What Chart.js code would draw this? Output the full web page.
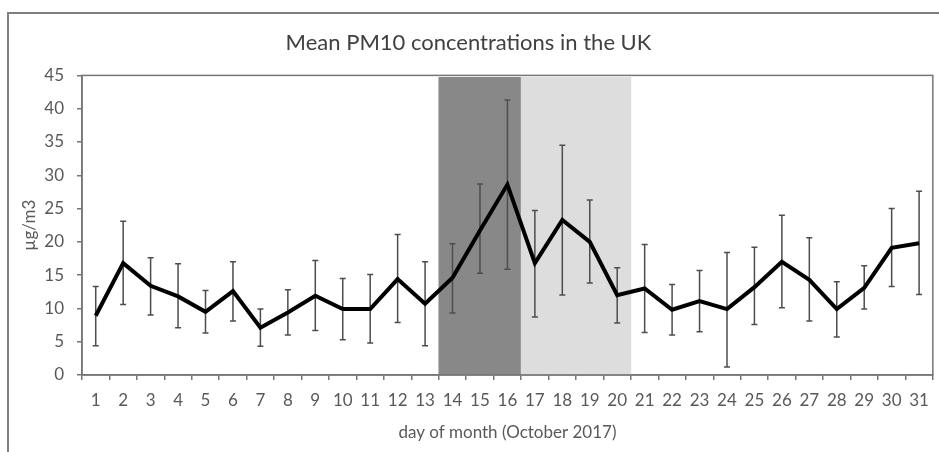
<!DOCTYPE html>
<html>
<head>
<meta charset="utf-8">
<title>Mean PM10 concentrations in the UK</title>
<script src="https://cdn.jsdelivr.net/npm/chart.js@4"></script>
<style>
  html, body { margin: 0; padding: 0; background: #fff; }
  #wrap { position: relative; width: 939px; height: 452px; overflow: hidden; }
  #frame { position: absolute; left: 7px; top: 12px; width: 960px; height: 470px;
           border-left: 2px solid #7f7f7f; border-top: 2px solid #7f7f7f; }
  #chart { position: absolute; left: 0; top: 0; }
</style>
</head>
<body>
<div id="wrap">
  <div id="frame"></div>
  <canvas id="chart" width="939" height="452"></canvas>
</div>
<script>
// day of month, October 2017
const days = ["1", "2", "3", "4", "5", "6", "7", "8", "9", "10", "11", "12", "13", "14", "15", "16",
              "17", "18", "19", "20", "21", "22", "23", "24", "25", "26", "27", "28", "29", "30", "31"];
// mean PM10 (µg/m3)
const means = [8.9, 16.8, 13.4, 11.8, 9.5, 12.6, 7.1, 9.4, 11.9, 9.9, 9.9, 14.4, 10.7, 14.6, 21.7, 28.6,
               16.8, 23.3, 20.0, 12.0, 13.0, 9.8, 11.1, 9.9, 13.2, 17.0, 14.3, 9.9, 13.1, 19.1, 19.8];
// error bar ends
const upper = [13.3, 23.1, 17.6, 16.7, 12.7, 17.0, 9.9, 12.8, 17.2, 14.5, 15.1, 21.1, 17.0, 19.7, 28.7, 41.3,
               24.7, 34.5, 26.3, 16.1, 19.6, 13.6, 15.7, 18.4, 19.2, 24.0, 20.6, 14.0, 16.4, 25.0, 27.6];
const lower = [4.4, 10.6, 9.0, 7.1, 6.3, 8.1, 4.3, 6.0, 6.7, 5.3, 4.8, 7.9, 4.4, 9.3, 15.3, 15.9,
               8.7, 12.0, 13.8, 7.8, 6.4, 6.0, 6.5, 1.2, 7.6, 10.1, 8.1, 5.7, 9.9, 13.3, 12.1];
// shaded periods
const darkDays = ["14", "15", "16"];
const lightDays = ["17", "18", "19", "20"];
const shadeTop = 44.7;

const grey = "#767676";
const textGrey = "#595959";
const fontFamily = "Lato, 'Open Sans', sans-serif";

const shadeValues = days.map(d => (darkDays.includes(d) || lightDays.includes(d)) ? shadeTop : null);
const shadeColors = days.map(d => darkDays.includes(d) ? "#888888" : "#dddddd");

// error bars, drawn after the shading and before the line
const errorBars = {
    id: "errorBars",
    afterDatasetDraw(chart, args) {
        if (args.meta.type !== "bar") return;
        const x = chart.scales.x, y = chart.scales.y, ctx = chart.ctx;
        ctx.save();
        ctx.strokeStyle = "#4d4d4d";
        ctx.lineWidth = 1.5;
        days.forEach((d, i) => {
            const px = x.getPixelForValue(i);
            const top = y.getPixelForValue(upper[i]);
            const bot = y.getPixelForValue(lower[i]);
            ctx.beginPath();
            ctx.moveTo(px, top); ctx.lineTo(px, bot);
            ctx.moveTo(px - 3, top); ctx.lineTo(px + 3, top);
            ctx.moveTo(px - 3, bot); ctx.lineTo(px + 3, bot);
            ctx.stroke();
        });
        ctx.restore();
    }
};

// box round the plot area
const plotBox = {
    id: "plotBox",
    afterDatasetsDraw(chart) {
        const a = chart.chartArea, ctx = chart.ctx;
        ctx.save();
        ctx.strokeStyle = grey;
        ctx.lineWidth = 1.5;
        ctx.strokeRect(a.left, a.top, a.right - a.left, a.bottom - a.top);
        ctx.restore();
    }
};

new Chart(document.getElementById("chart"), {
    data: {
        labels: days,
        datasets: [
            {
                type: "line",
                data: means,
                borderColor: "#000",
                borderWidth: 4,
                pointRadius: 0,
                tension: 0,
                order: 1
            },
            {
                type: "bar",
                data: shadeValues,
                backgroundColor: shadeColors,
                borderWidth: 0,
                categoryPercentage: 1,
                barPercentage: 1,
                order: 2
            }
        ]
    },
    options: {
        responsive: false,
        animation: false,
        events: [],
        layout: { padding: { left: 0, right: 2, top: 0, bottom: 0 } },
        plugins: {
            legend: { display: false },
            tooltip: { enabled: false },
            title: {
                display: true,
                text: "Mean PM10 concentrations in the UK",
                color: "#404040",
                font: { family: fontFamily, size: 22, weight: "normal", lineHeight: 1.2 },
                padding: { top: 30, bottom: 19 }
            }
        },
        scales: {
            x: {
                type: "category",
                offset: true,
                grid: { display: true, offset: true, drawOnChartArea: false, drawTicks: true, tickLength: 5, color: grey, lineWidth: 1.5 },
                border: { display: true, color: grey, width: 1.5 },
                ticks: { color: textGrey, font: { family: fontFamily, size: 17 }, padding: 10, maxRotation: 0, autoSkip: false },
                title: {
                    display: true,
                    text: "day of month (October 2017)",
                    color: textGrey,
                    font: { family: fontFamily, size: 17 },
                    padding: { top: 0, bottom: 9 }
                },
                afterFit(scale) { scale.height = 77; }
            },
            y: {
                min: 0,
                max: 45,
                ticks: { stepSize: 5, color: textGrey, font: { family: fontFamily, size: 17 }, padding: 13 },
                grid: { display: true, drawOnChartArea: false, drawTicks: true, tickLength: 5, color: grey, lineWidth: 1.5 },
                border: { display: true, color: grey, width: 1.5 },
                title: {
                    display: true,
                    text: "µg/m3",
                    color: textGrey,
                    font: { family: fontFamily, size: 17 },
                    padding: { top: 19, bottom: 0 }
                },
                afterFit(scale) { scale.width = 82; }
            }
        }
    },
    plugins: [errorBars, plotBox]
});
</script>
</body>
</html>
